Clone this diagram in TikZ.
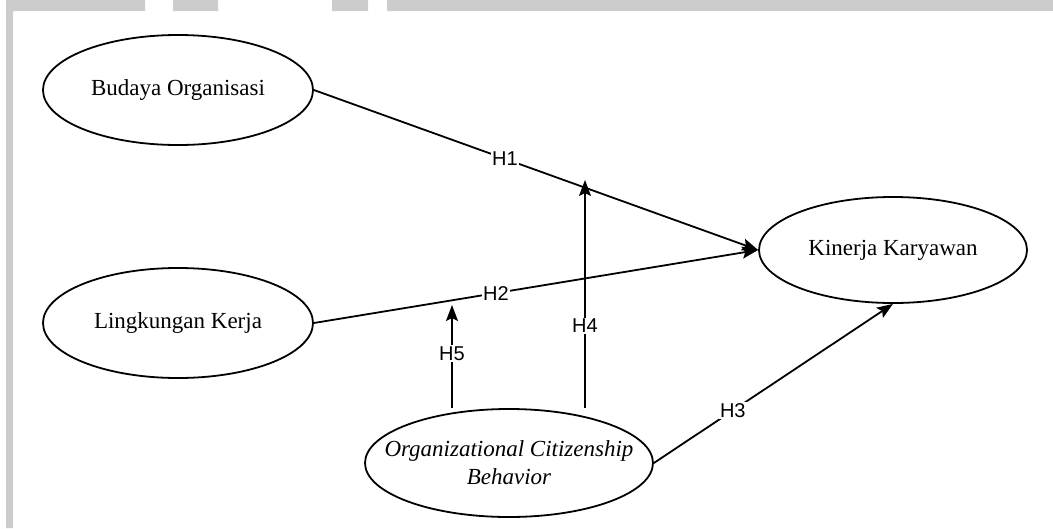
\documentclass[tikz,border=0pt]{standalone}
\usepackage{fontspec}
\setmainfont{Liberation Serif}
\newfontfamily\hypfont{Liberation Sans}
\usetikzlibrary{shapes.geometric,arrows.meta}
\definecolor{framegray}{HTML}{CCCCCC}
\begin{document}
\begin{tikzpicture}[x=1pt,y=-1pt,
  construct/.style={draw,ellipse,line width=1.8pt,minimum width=270pt,
    minimum height=110pt,inner sep=0pt,align=center,
    font=\fontsize{23}{28}\selectfont},
  hyp/.style={line width=1.8pt,-{Stealth[length=16pt,width=12pt,inset=3pt]}},
  hlabel/.style={fill=white,inner sep=1.5pt,font=\hypfont\fontsize{20}{22}\selectfont}]
\useasboundingbox (0,0) rectangle (1053,528);
\fill[framegray] (6,0) rectangle (145,11) (173,0) rectangle (218,11)
  (332,0) rectangle (368,11) (387,0) rectangle (1053,11)
  (6,0) rectangle (13,528);
\node[construct] (budaya) at (178,90) {Budaya Organisasi};
\node[construct] (lingkungan) at (178,323) {Lingkungan Kerja};
\node[construct,minimum width=268pt,minimum height=106pt] (kinerja) at (893,250) {Kinerja Karyawan};
\node[construct,minimum width=288pt,minimum height=108pt,inner xsep=-26pt] (ocb) at (509,463)
  {\itshape Organizational Citizenship\\\itshape Behavior};
\coordinate (h4tip) at (585,180);
\coordinate (h5tip) at (452,305);
\draw[hyp] (budaya.east) -- node[hlabel,pos=0.43] {H1} (kinerja.west);
\draw[hyp] (lingkungan.east) -- node[hlabel,pos=0.41] {H2} (kinerja.west);
\draw[hyp] (ocb.east) -- node[hlabel,pos=0.33] {H3} (kinerja.south);
\draw[hyp] (h4tip |- ocb.north) -- node[hlabel,pos=0.36] {H4} (h4tip);
\draw[hyp] (h5tip |- ocb.north) -- node[hlabel,pos=0.53] {H5} (h5tip);
\end{tikzpicture}
\end{document}
